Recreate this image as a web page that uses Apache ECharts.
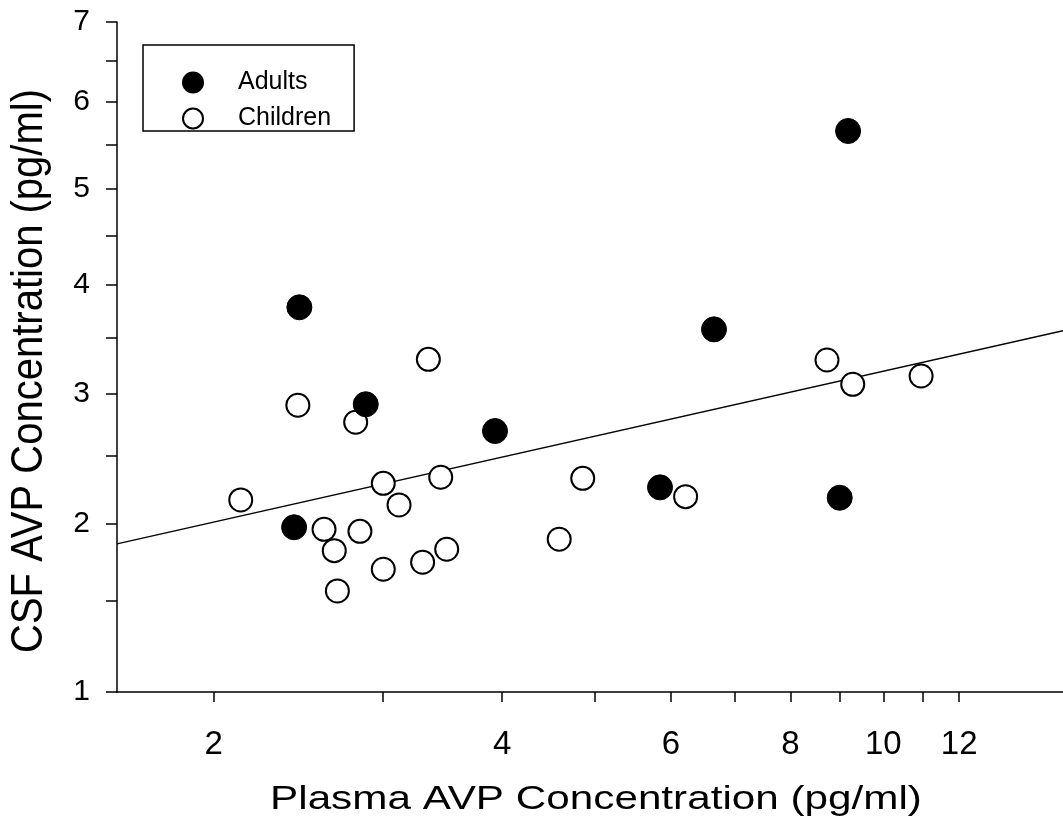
<!DOCTYPE html>
<html>
<head>
<meta charset="utf-8">
<script src="https://cdn.jsdelivr.net/npm/echarts@6/dist/echarts.min.js"></script>
<style>
html,body{margin:0;padding:0;background:#fff;}
#chart{width:1063px;height:822px;}
</style>
</head>
<body>
<div id="chart"></div>
<script>
// ---- data (raw values, pg/ml) ----
const plasmaAdults = [2.457, 2.882, 2.426, 3.932, 5.846, 6.656, 9.187, 9.004];
const csfAdults    = [3.783, 2.913, 1.973, 2.693, 2.258, 3.575, 5.655, 2.182];
const plasmaChildren = [2.134, 2.448, 2.607, 2.672, 2.692, 2.813, 2.842, 3.006, 3.006, 3.122,
                        3.304, 3.350, 3.451, 3.501, 4.588, 4.855, 6.217, 8.733, 9.290, 10.95];
const csfChildren    = [2.166, 2.905, 1.959, 1.815, 1.558, 2.764, 1.945, 2.288, 1.694, 2.130,
                        1.739, 3.302, 2.333, 1.824, 1.891, 2.325, 2.190, 3.296, 3.083, 3.155];
const fitPlasma = [1.585, 15.4];
const fitCsf    = [1.86, 3.563];
const xRange = [1.585, 15.4];
const yRange = [1, 7];
const xTickValues  = [2, 3, 4, 5, 6, 7, 8, 9, 10, 11, 12];
const xLabelValues = [2, 4, 6, 8, 10, 12];
const yTickValues  = [1, 1.5, 2, 2.5, 3, 3.5, 4, 4.5, 5, 5.5, 6, 6.5, 7];
const yLabelValues = [1, 2, 3, 4, 5, 6, 7];
const seriesNames = ['Adults', 'Children'];
const xTitle = 'Plasma AVP Concentration (pg/ml)';
const yTitle = 'CSF AVP Concentration (pg/ml)';

// x axis: log10 scale, y axis: square-root scale
const fx = v => Math.log10(v);
const fy = v => Math.sqrt(v);
const pts = (xs, ys) => xs.map((x, i) => [fx(x), fy(ys[i])]);

const FONT = "'Liberation Sans', Arial, sans-serif";
const chart = echarts.init(document.getElementById('chart'), null, {renderer: 'canvas'});

chart.setOption({
  backgroundColor: '#ffffff',
  animation: false,
  grid: {left: 117, right: 0, top: 22, bottom: 130, outerBoundsMode: 'none', containLabel: false},
  xAxis: {
    type: 'value',
    min: fx(xRange[0]), max: fx(xRange[1]),
    splitLine: {show: false},
    axisLine: {show: true, onZero: false, lineStyle: {color: '#000', width: 1.5}},
    axisTick: {show: true, inside: false, length: 10, lineStyle: {color: '#000', width: 1.5},
               customValues: xTickValues.map(fx)},
    axisLabel: {show: true, margin: 36, color: '#000', fontSize: 33, fontFamily: FONT,
                customValues: xLabelValues.map(fx),
                formatter: v => String(Math.round(Math.pow(10, v)))}
  },
  yAxis: {
    type: 'value',
    min: fy(yRange[0]), max: fy(yRange[1]),
    splitLine: {show: false},
    axisLine: {show: true, onZero: false, lineStyle: {color: '#000', width: 1.5}},
    axisTick: {show: true, inside: false, length: 11, lineStyle: {color: '#000', width: 1.5},
               customValues: yTickValues.map(fy)},
    axisLabel: {show: true, margin: 27, color: '#000', fontSize: 30, fontFamily: FONT,
                customValues: yLabelValues.map(fy),
                formatter: v => String(Math.round(v * v))}
  },
  legend: {
    show: true,
    data: seriesNames,
    orient: 'vertical',
    left: 143, top: 45,
    padding: [25, 23, 0, 39],
    itemGap: 11,
    itemWidth: 20, itemHeight: 20,
    borderColor: '#000', borderWidth: 1.5, borderRadius: 0,
    backgroundColor: '#fff',
    textStyle: {color: '#000', fontSize: 25, fontFamily: FONT, padding: [0, 0, 0, 30]}
  },
  series: [
    {
      name: 'fit', type: 'line', z: 1,
      data: pts(fitPlasma, fitCsf),
      showSymbol: false, symbol: 'none', silent: true,
      lineStyle: {color: '#000', width: 1.5}
    },
    {
      name: 'Children', type: 'scatter', z: 2,
      symbol: 'circle', symbolSize: 23,
      data: pts(plasmaChildren, csfChildren),
      itemStyle: {color: '#fff', borderColor: '#000', borderWidth: 2, opacity: 1}
    },
    {
      name: 'Adults', type: 'scatter', z: 3,
      symbol: 'circle', symbolSize: 25,
      data: pts(plasmaAdults, csfAdults),
      itemStyle: {color: '#000', borderColor: '#000', borderWidth: 1, opacity: 1}
    }
  ],
  graphic: [
    {
      type: 'text', x: 596, y: 800, silent: true,
      scaleX: 1.28, scaleY: 1,
      style: {text: xTitle, x: 0, y: 0, align: 'center', verticalAlign: 'middle',
              font: "33px 'Liberation Sans', Arial, sans-serif", fill: '#000'}
    },
    {
      type: 'text', x: 30, y: 371, silent: true,
      rotation: Math.PI / 2, scaleX: 1, scaleY: 1.1,
      style: {text: yTitle, x: 0, y: 0, align: 'center', verticalAlign: 'middle',
              font: "40px 'Liberation Sans', Arial, sans-serif", fill: '#000'}
    }
  ]
});
</script>
</body>
</html>
